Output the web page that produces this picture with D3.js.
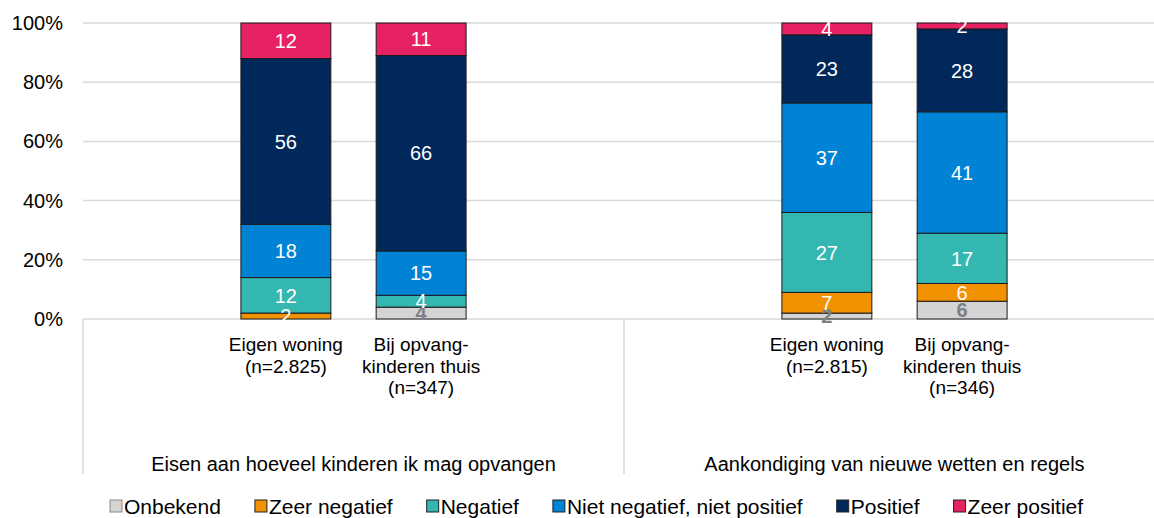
<!DOCTYPE html>
<html>
<head>
<meta charset="utf-8">
<script src="https://cdn.jsdelivr.net/npm/d3@7"></script>
<style>
  body { margin: 0; background: #fff; }
  text { font-family: "Liberation Sans", Arial, sans-serif; }
</style>
</head>
<body>
<div id="chart"></div>
<script>
const width = 1154;
const height = 518;

// categories
const groups = ['Eisen aan hoeveel kinderen ik mag opvangen', 'Aankondiging van nieuwe wetten en regels'];
const barLabels = [
  ['Eigen woning', '(n=2.825)'],
  ['Bij opvang-', 'kinderen thuis', '(n=347)'],
  ['Eigen woning', '(n=2.815)'],
  ['Bij opvang-', 'kinderen thuis', '(n=346)']
];
const barGroup = [0, 0, 1, 1];
const barSlot = [1, 2, 1, 2];

// series (percentages)
const series = ['Onbekend', 'Zeer negatief', 'Negatief', 'Niet negatief, niet positief', 'Positief', 'Zeer positief'];
const colors = ['#d4d4d4', '#f39200', '#34b6b1', '#0082d5', '#00285a', '#e72264'];
const onbekend = [0, 4, 2, 6];
const zeerNegatief = [2, 0, 7, 6];
const negatief = [12, 4, 27, 17];
const neutraal = [18, 15, 37, 41];
const positief = [56, 66, 23, 28];
const zeerPositief = [12, 11, 4, 2];
const yTicks = [0, 20, 40, 60, 80, 100];

const seriesValues = [onbekend, zeerNegatief, negatief, neutraal, positief, zeerPositief];

// table for d3.stack
const table = barLabels.map((lab, i) => {
  const row = { index: i };
  series.forEach((s, j) => { row[s] = seriesValues[j][i]; });
  return row;
});

const margin = { top: 23, left: 83, plotRight: 1165, bottom: 319 };

const svg = d3.select('#chart')
  .append('svg')
  .attr('width', width)
  .attr('height', height);

const y = d3.scaleLinear().domain([0, 100]).range([margin.bottom, margin.top]);
const x0 = d3.scaleBand().domain(d3.range(groups.length)).range([margin.left, margin.plotRight]);
const x1 = d3.scaleBand().domain(d3.range(4)).range([0, x0.bandwidth()])
  .paddingInner(0.335)
  .paddingOuter(0.1675);

const barX = i => x0(barGroup[i]) + x1(barSlot[i]);
const barCenter = i => barX(i) + x1.bandwidth() / 2;

// gridlines
svg.append('g')
  .selectAll('line')
  .data(yTicks)
  .enter()
  .append('line')
  .attr('x1', margin.left)
  .attr('x2', margin.plotRight)
  .attr('y1', d => y(d))
  .attr('y2', d => y(d))
  .style('stroke', '#d9d9d9')
  .style('stroke-width', 1.5);

// y tick labels
svg.append('g')
  .selectAll('text')
  .data(yTicks)
  .enter()
  .append('text')
  .attr('x', 63)
  .attr('y', d => y(d))
  .attr('dy', '0.35em')
  .attr('text-anchor', 'end')
  .style('font-size', '20px')
  .style('fill', '#000')
  .text(d => d + '%');

// group separators on the category axis
const sepX = d3.range(groups.length + 1).map(g => g < groups.length ? x0(g) : margin.plotRight);
svg.append('g')
  .selectAll('line')
  .data(sepX)
  .enter()
  .append('line')
  .attr('x1', d => d)
  .attr('x2', d => d)
  .attr('y1', margin.bottom)
  .attr('y2', 474)
  .style('stroke', '#d9d9d9')
  .style('stroke-width', 1.5);

// stacked bars
const stacked = d3.stack().keys(series)(table);

const layers = svg.append('g')
  .selectAll('g')
  .data(stacked)
  .enter()
  .append('g')
  .style('fill', (d, i) => colors[i]);

layers.selectAll('rect')
  .data(d => d)
  .enter()
  .filter(d => d[1] - d[0] > 0)
  .append('rect')
  .attr('x', d => barX(d.data.index))
  .attr('width', x1.bandwidth())
  .attr('y', d => y(d[1]))
  .attr('height', d => y(d[0]) - y(d[1]))
  .style('stroke', '#1a1a1a')
  .style('stroke-width', 1);

// data labels (values that are 0 get no label)
stacked.forEach((layer, si) => {
  svg.append('g')
    .selectAll('text')
    .data(layer.filter(d => d[1] - d[0] > 0))
    .enter()
    .append('text')
    .attr('x', d => barCenter(d.data.index))
    .attr('y', d => y((d[0] + d[1]) / 2))
    .attr('dy', '0.36em')
    .attr('text-anchor', 'middle')
    .style('font-size', '20px')
    .style('font-weight', si === 0 ? 'bold' : 'normal')
    .style('fill', si === 0 ? '#808080' : '#fff')
    .text(d => d[1] - d[0]);
});

// bar category labels
barLabels.forEach((lines, i) => {
  const t = svg.append('text')
    .attr('text-anchor', 'middle')
    .style('font-size', '19px')
    .style('fill', '#000');
  lines.forEach((line, k) => {
    t.append('tspan')
      .attr('x', barCenter(i))
      .attr('y', 351 + k * 21.5)
      .text(line);
  });
});

// group labels
svg.append('g')
  .selectAll('text')
  .data(groups)
  .enter()
  .append('text')
  .attr('x', (d, i) => x0(i) + x0.bandwidth() / 2)
  .attr('y', 471)
  .attr('text-anchor', 'middle')
  .style('font-size', '20px')
  .style('fill', '#000')
  .text(d => d);

// legend
const legend = svg.append('g').attr('transform', 'translate(110, 506)');
let lx = 0;
series.forEach((s, i) => {
  const item = legend.append('g').attr('transform', `translate(${lx},0)`);
  item.append('rect')
    .attr('x', 0)
    .attr('y', -6)
    .attr('width', 12)
    .attr('height', 12)
    .style('fill', colors[i])
    .style('stroke', i === 0 ? '#888' : '#222')
    .style('stroke-width', 1);
  const txt = item.append('text')
    .attr('x', 14)
    .attr('y', 0)
    .attr('dy', '0.36em')
    .style('font-size', '21px')
    .style('fill', '#000')
    .text(s);
  lx += 14 + txt.node().getComputedTextLength() + 34;
});
</script>
</body>
</html>
